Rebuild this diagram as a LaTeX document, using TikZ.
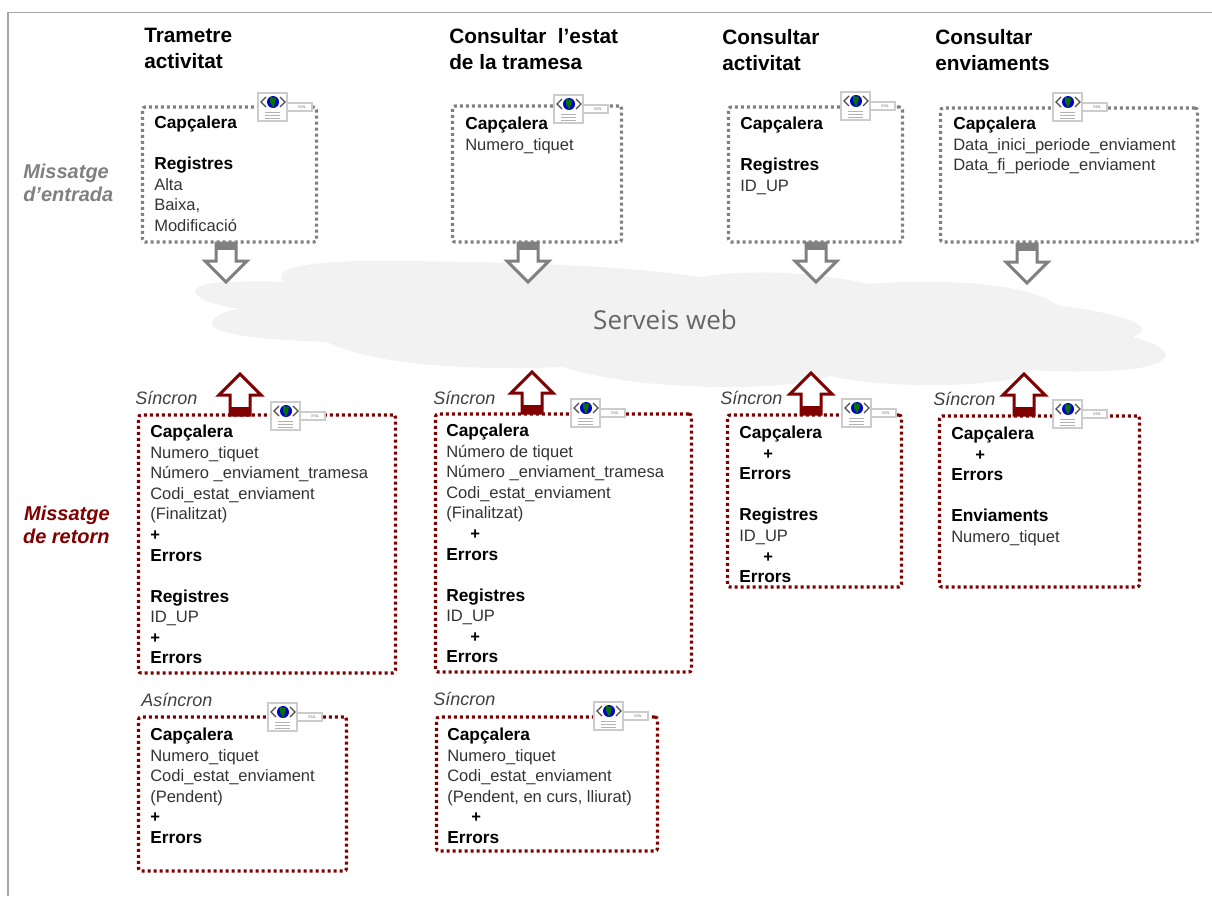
\documentclass[tikz,border=0pt]{standalone}
\usepackage{fontspec}
\setmainfont{Liberation Sans}
\newfontfamily\cloudfont{Open Sans}
\definecolor{inputgray}{HTML}{808080}
\definecolor{returnred}{HTML}{800000}
\definecolor{cloudgray}{HTML}{F2F2F2}
\tikzset{
  inputbox/.style={draw=inputgray,line width=2.4pt,outer sep=0pt,rounded corners=2pt,dash pattern=on 2.2pt off 2.3pt},
  returnbox/.style={draw=returnred,line width=2.4pt,outer sep=0pt,rounded corners=2pt,dash pattern=on 2.2pt off 2.3pt},
  boxtext/.style={anchor=north west,inner sep=0pt,align=left,text=black!80,font=\fontsize{12.4}{15.4}\selectfont},
  titletext/.style={anchor=north west,inner sep=0pt,align=left,font=\fontsize{15.6}{19.6}\selectfont\bfseries},
  sidetext/.style={inner sep=0pt,font=\fontsize{15}{17.3}\selectfont\bfseries\itshape},
  modetext/.style={anchor=west,inner sep=0pt,text=black!75,font=\fontsize{13.5}{15}\selectfont\itshape}
}
\newcommand{\hd}[1]{{\color{black}\fontsize{13}{15.4}\selectfont\bfseries #1}}
\newcommand{\plus}{{\color{black}\bfseries +}}
\newcommand{\xmlicon}[2]{
\begin{scope}[shift={(#1,#2)}]
\draw[gray!40,line width=1pt,fill=white] (29,10) rectangle (54,18);
\node (xml#1) [inner sep=0pt,text=gray,font=\fontsize{3}{3}\selectfont] at (44,14) {XML};
\draw[gray!40,line width=1pt,fill=white] (0,0) rectangle (29,28);
\fill[blue!80!black] (15,9) circle (6);
\fill[green!45!black] (12,4) -- (18,5) -- (17,10) -- (15,15) -- (12,9) -- cycle;
\draw[black!70,line width=1pt] (8,4) -- (3,9) -- (8,14);
\draw[black!70,line width=1pt] (22,4) -- (27,9) -- (22,14);
\draw[gray!60,line width=0.6pt] (7,19) -- (22,19) (7,22) -- (22,22) (7,25) -- (22,25);
\end{scope}
}
\newcommand{\inarrow}[2]{
\draw[inputgray,line width=2.25pt,fill=white] (#1-10,#2) -- (#1-10,#2+18) -- (#1-21,#2+18) -- (#1,#2+39) -- (#1+21,#2+18) -- (#1+10,#2+18) -- (#1+10,#2) -- cycle;
\fill[inputgray] (#1-11,#2-1) rectangle (#1+11,#2+7);
}
\newcommand{\outarrow}[2]{
\draw[returnred,line width=2.25pt,fill=white] (#1-10,#2) -- (#1-10,#2-20) -- (#1-21,#2-20) -- (#1,#2-41) -- (#1+21,#2-20) -- (#1+10,#2-20) -- (#1+10,#2) -- cycle;
\fill[returnred] (#1-11,#2-8) rectangle (#1+11,#2+1);
}
\begin{document}
\begin{tikzpicture}[x=0.75pt,y=-0.75pt]
\useasboundingbox (0,0) rectangle (1212,896);
\draw[gray!70,line width=1.1pt] (8,896) -- (8,12.5) -- (1212,12.5);

% nuvol
\fill[cloudgray] (284,282) .. controls (270,268) and (310,261) .. (371,261)
  .. controls (440,261) and (600,262) .. (700,277)
  .. controls (740,270) and (810,270) .. (867,284)
  .. controls (950,278) and (1030,284) .. (1057,305)
  .. controls (1110,312) and (1165,325) .. (1133,337)
  .. controls (1180,350) and (1175,365) .. (1124,370)
  .. controls (1090,372) and (1060,372) .. (1031,370)
  .. controls (1030,385) and (900,392) .. (830,376)
  .. controls (790,392) and (640,392) .. (563,367)
  .. controls (490,370) and (380,368) .. (327,342)
  .. controls (270,340) and (195,335) .. (215,318)
  .. controls (220,313) and (230,310) .. (240,309)
  .. controls (190,302) and (175,283) .. (230,282)
  .. controls (250,281) and (270,281) .. (284,282) -- cycle;
\node(WS) [text=black!60,font=\cloudfont\fontsize{19.5}{22}\selectfont,inner sep=0pt] at (665,320) {Serveis web};

% titols
\node(T1) [titletext] at (144,28) {Trametre\\activitat};
\node(T2) [titletext] at (449,28) {Consultar\ \ l'estat\\de la tramesa};
\node(T3) [titletext] at (722,29) {Consultar\\activitat};
\node(T4) [titletext] at (935,29) {Consultar\\enviaments};

\node(SI) [sidetext,text=inputgray,anchor=north west,align=left] at (23,164) {Missatge\\d'entrada};
\node(SR) [sidetext,text=returnred,anchor=north east,align=right] at (110,506) {Missatge\\de retorn};

% fletxes
\inarrow{226}{243}
\inarrow{528}{243}
\inarrow{816}{243}
\inarrow{1027}{244}
\outarrow{240}{415}
\outarrow{532}{413}
\outarrow{811}{414}
\outarrow{1024}{415}

% missatges d'entrada
\node(I1) [inputbox,minimum width=130.5pt,minimum height=101.25pt,anchor=north west] at (142.5,107) {};
\node(I2) [inputbox,minimum width=126.75pt,minimum height=102pt,anchor=north west] at (452.5,106) {};
\node(I3) [inputbox,minimum width=130.5pt,minimum height=101.25pt,anchor=north west] at (728.5,107) {};
\node(I4) [inputbox,minimum width=192.75pt,minimum height=100.5pt,anchor=north west] at (940.5,108) {};

% missatges de retorn
\node(R1) [returnbox,minimum width=192.75pt,minimum height=193.5pt,anchor=north west] at (138.5,415) {};
\node(R2) [returnbox,minimum width=192pt,minimum height=193.5pt,anchor=north west] at (435.5,414) {};
\node(R3) [returnbox,minimum width=130.5pt,minimum height=129pt,anchor=north west] at (727.5,415) {};
\node(R4) [returnbox,minimum width=150pt,minimum height=128.25pt,anchor=north west] at (939.5,416) {};
\node(R5) [returnbox,minimum width=156pt,minimum height=115.5pt,anchor=north west] at (138.5,717) {};
\node(R6) [returnbox,minimum width=165.75pt,minimum height=100.5pt,anchor=north west] at (436.5,717) {};

\xmlicon{258}{93}
\xmlicon{554}{95}
\xmlicon{841}{92}
\xmlicon{1053}{93}
\xmlicon{271}{402}
\xmlicon{571}{399}
\xmlicon{842}{399}
\xmlicon{1053}{400}
\xmlicon{268}{703}
\xmlicon{594}{702}

% textos
\node(I1T) [boxtext] at (154,116) {\hd{Capçalera}\\[15.4pt]\hd{Registres}\\Alta\\Baixa,\\Modificació};
\node(I2T) [boxtext] at (465,117) {\hd{Capçalera}\\Numero\_tiquet};
\node(I3T) [boxtext] at (740,117) {\hd{Capçalera}\\[15.4pt]\hd{Registres}\\ID\_UP};
\node(I4T) [boxtext] at (953,117) {\hd{Capçalera}\\Data\_inici\_periode\_enviament\\Data\_fi\_periode\_enviament};

\node(R1T) [boxtext] at (150,425) {\hd{Capçalera}\\Numero\_tiquet\\Número \_enviament\_tramesa\\Codi\_estat\_enviament\\(Finalitzat)\\\plus\\\hd{Errors}\\[15.4pt]\hd{Registres}\\ID\_UP\\\plus\\\hd{Errors}};
\node(R2T) [boxtext] at (446,424) {\hd{Capçalera}\\Número de tiquet\\Número \_enviament\_tramesa\\Codi\_estat\_enviament\\(Finalitzat)\\\hspace*{18pt}\plus\\\hd{Errors}\\[15.4pt]\hd{Registres}\\ID\_UP\\\hspace*{18pt}\plus\\\hd{Errors}};
\node(R3T) [boxtext] at (739,426) {\hd{Capçalera}\\\hspace*{18pt}\plus\\\hd{Errors}\\[15.4pt]\hd{Registres}\\ID\_UP\\\hspace*{18pt}\plus\\\hd{Errors}};
\node(R4T) [boxtext] at (951,427) {\hd{Capçalera}\\\hspace*{18pt}\plus\\\hd{Errors}\\[15.4pt]\hd{Enviaments}\\Numero\_tiquet};
\node(R5T) [boxtext] at (150,728) {\hd{Capçalera}\\Numero\_tiquet\\Codi\_estat\_enviament\\(Pendent)\\\plus\\\hd{Errors}};
\node(R6T) [boxtext] at (447,728) {\hd{Capçalera}\\Numero\_tiquet\\Codi\_estat\_enviament\\(Pendent, en curs, lliurat)\\\hspace*{18pt}\plus\\\hd{Errors}};

\node(M1) [modetext] at (135,398) {Síncron};
\node(M2) [modetext] at (433,398) {Síncron};
\node(M3) [modetext] at (720,398) {Síncron};
\node(M4) [modetext] at (933,399) {Síncron};
\node(M5) [modetext] at (141,700) {Asíncron};
\node(M6) [modetext] at (433,699) {Síncron};
\end{tikzpicture}
\end{document}
